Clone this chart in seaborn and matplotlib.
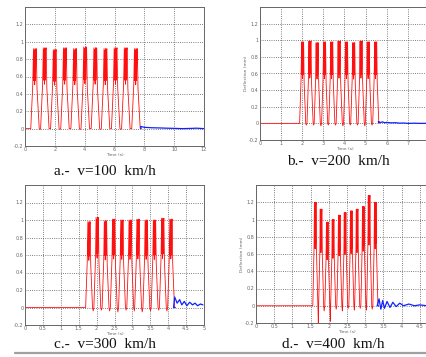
import numpy as np
import pandas as pd
import seaborn as sns
import matplotlib.pyplot as plt
from matplotlib.lines import Line2D

# shape of one axle pulse
# (time as fraction of the pulse spacing, value as fraction of the peak)
pulse_u = [-0.42, -0.22, -0.15, -0.11, -0.07, -0.03, 0.01, 0.05, 0.09, 0.13, 0.20, 0.42]
pulse_v = [0.0, 0.55, 1.0, 0.60, 0.98, 0.55, 1.0, 0.60, 0.97, 1.0, 0.50, 0.0]

# a.- v=100 km/h
a_peaks = [0.67, 1.33, 2.00, 2.68, 3.36, 4.04, 4.72, 5.40, 6.08, 6.76, 7.44]
a_heights = [0.92, 0.93, 0.91, 0.93, 0.92, 0.94, 0.93, 0.92, 0.93, 0.93, 0.92]
a_lows = [-0.01, 0.0, -0.01, 0.0, -0.01, 0.0, -0.01, 0.0, -0.01, 0.0, 0.0]
a_spacing = 0.677
a_tail_t = [7.75, 8.0, 8.5, 9.0, 9.5, 10.0, 10.5, 11.0, 11.5, 12.0]
a_tail_v = [0.025, 0.015, 0.01, 0.008, 0.005, 0.003, 0.0, 0.002, 0.005, 0.0]

# b.- v=200 km/h
b_peaks = [2.02, 2.37, 2.71, 3.06, 3.40, 3.75, 4.10, 4.44, 4.79, 5.13, 5.48]
b_heights = [0.98, 0.99, 0.97, 0.98, 0.98, 0.99, 0.98, 0.97, 0.99, 0.98, 0.98]
b_lows = [-0.02, -0.02, -0.03, -0.02, -0.02, -0.03, -0.02, -0.02, -0.03, -0.02, 0.01]
b_spacing = 0.346
b_tail_t = [5.6, 5.7, 5.8, 5.9, 6.0, 6.2, 6.4, 6.6, 6.8, 7.0, 7.3, 7.6, 8.0]
b_tail_v = [0.02, 0.01, 0.018, 0.008, 0.012, 0.006, 0.008, 0.003, 0.004, 0.0, 0.002, 0.0, 0.001]

# c.- v=300 km/h
c_peaks = [1.79, 2.02, 2.25, 2.48, 2.71, 2.94, 3.16, 3.39, 3.62, 3.85, 4.08]
c_heights = [0.98, 1.03, 0.99, 1.01, 1.00, 1.00, 1.01, 1.00, 1.00, 1.02, 1.01]
c_lows = [-0.04, -0.03, -0.04, -0.05, -0.03, -0.04, -0.05, -0.04, -0.03, -0.04, 0.0]
c_spacing = 0.229
c_tail_t = [4.15, 4.18, 4.25, 4.32, 4.38, 4.45, 4.52, 4.60, 4.68, 4.75, 4.82, 4.90, 4.97]
c_tail_v = [0.0, 0.12, 0.05, 0.09, 0.03, 0.07, 0.02, 0.06, 0.03, 0.05, 0.02, 0.04, 0.03]

# d.- v=400 km/h
d_peaks = [1.63, 1.79, 1.96, 2.12, 2.29, 2.45, 2.62, 2.78, 2.95, 3.11, 3.28]
d_heights = [1.20, 1.12, 0.97, 1.00, 1.05, 1.08, 1.10, 1.12, 1.15, 1.28, 1.20]
d_lows = [-0.20, -0.06, -0.18, -0.04, -0.06, -0.03, -0.05, -0.03, -0.05, -0.04, 0.0]
d_spacing = 0.165
d_tail_t = [3.33, 3.38, 3.43, 3.48, 3.53, 3.60, 3.68, 3.76, 3.85, 3.95, 4.05, 4.20, 4.35, 4.50, 4.70, 4.90]
d_tail_v = [0.0, 0.08, -0.04, 0.06, -0.03, 0.05, -0.02, 0.04, -0.01, 0.03, 0.0, 0.02, 0.0, 0.01, 0.0, 0.0]

captions = ["a.-  v=100  km/h", "b.-  v=200  km/h", "c.-  v=300  km/h", "d.-  v=400  km/h"]


def red_trace(peaks, heights, lows, spacing):
    t = [0.0, peaks[0] - 0.5 * spacing]
    v = [0.0, 0.0]
    for p, h, lo in zip(peaks, heights, lows):
        t += [p + u * spacing for u in pulse_u]
        v += [h * f for f in pulse_v]
        t.append(p + 0.5 * spacing)
        v.append(lo)
    return pd.DataFrame({"t": t, "y": v})


sns.set_theme(style="white")
plt.rcParams["font.family"] = ["DejaVu Sans"]

fig = plt.figure(figsize=(4.27, 3.57), dpi=100)

# peaks, heights, lows, spacing, tail t, tail v, axes box (px), xmax, tick step, last labelled tick, ylabel
panels = [
    (a_peaks, a_heights, a_lows, a_spacing, a_tail_t, a_tail_v, [25, 7, 179, 139], 12, 2, 12, False),
    (b_peaks, b_heights, b_lows, b_spacing, b_tail_t, b_tail_v, [260, 7, 169, 133], 8, 1, 7, True),
    (c_peaks, c_heights, c_lows, c_spacing, c_tail_t, c_tail_v, [25, 185, 179, 140], 5, 0.5, 5, False),
    (d_peaks, d_heights, d_lows, d_spacing, d_tail_t, d_tail_v, [256, 185, 182, 138], 5, 0.5, 4.5, True),
]

W, H = 427, 357
for peaks, heights, lows, spacing, tail_t, tail_v, box, xmax, xstep, xlast, ylab in panels:
    x0, y0, w, h = box
    ax = fig.add_axes([x0 / W, 1 - (y0 + h) / H, w / W, h / H])
    red = red_trace(peaks, heights, lows, spacing)
    blue = pd.DataFrame({"t": [red["t"].iloc[-1]] + tail_t, "y": [red["y"].iloc[-1]] + tail_v})
    sns.lineplot(data=red, x="t", y="y", sort=False, estimator=None, color="#ff1010", lw=0.6, ax=ax)
    sns.lineplot(data=blue, x="t", y="y", sort=False, estimator=None, color="#1020ff", lw=0.9, ax=ax)
    ax.set_xlim(0, xmax)
    ax.set_ylim(-0.2, 1.4)
    xt = np.arange(0, xmax + xstep / 2, xstep)
    ax.set_xticks(xt)
    ax.set_xticklabels([f"{v:g}" if v <= xlast else "" for v in xt])
    yt = [-0.2, 0, 0.2, 0.4, 0.6, 0.8, 1.0, 1.2]
    ax.set_yticks(yt)
    ax.set_yticklabels([f"{v:g}" for v in yt])
    ax.grid(True, linestyle=":", color="#555555", lw=0.6)
    ax.tick_params(labelsize=3.5, colors="#666666", length=1.5, pad=1, direction="in")
    for s in ax.spines.values():
        s.set_color("#666666")
        s.set_linewidth(0.7)
    ax.set_xlabel("Time (s)", fontsize=3.2, color="#666666", labelpad=0.5)
    ax.set_ylabel("Deflection (mm)" if ylab else "", fontsize=3.2, color="#666666", labelpad=0.5)

cap_pos = [(105, 171), (338, 162), (105, 344), (333, 344)]
for (cx, cy), txt in zip(cap_pos, captions):
    fig.text(cx / W, 1 - cy / H, txt, ha="center", va="center",
             fontsize=11, family="Liberation Serif", color="#111111")

fig.add_artist(Line2D([15 / W, 1], [1 - 353 / H, 1 - 353 / H], color="#a0a0a0", lw=1.6,
                      transform=fig.transFigure, zorder=10))

fig.savefig("out.png", dpi=100)
